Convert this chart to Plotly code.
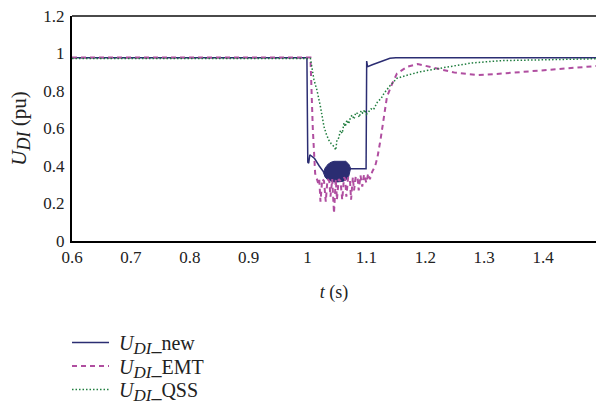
import plotly.graph_objects as go

# ---- data ----
t_new = [0.6, 0.999, 1.0005, 1.002, 1.004, 1.008, 1.012, 1.02, 1.027, 1.035, 1.05, 1.065,
         1.073, 1.08, 1.0995, 1.1005, 1.102, 1.11, 1.12, 1.13, 1.14, 1.15, 1.49]
u_new = [0.977, 0.977, 0.42, 0.415, 0.46, 0.45, 0.44, 0.40, 0.37, 0.36, 0.36, 0.37,
         0.385, 0.385, 0.385, 0.96, 0.93, 0.94, 0.952, 0.966, 0.975, 0.977, 0.977]

t_blob = [1.027, 1.030, 1.035, 1.040, 1.045, 1.050, 1.055, 1.060, 1.065, 1.070, 1.073]
u_blob_hi = [0.365, 0.39, 0.41, 0.42, 0.425, 0.425, 0.425, 0.425, 0.425, 0.41, 0.39]
u_blob_lo = [0.365, 0.34, 0.325, 0.32, 0.315, 0.315, 0.315, 0.318, 0.325, 0.345, 0.385]

t_emt = [0.6, 1.005, 1.009, 1.013, 1.018,
         1.020, 1.022, 1.025, 1.028, 1.031, 1.034, 1.037, 1.039, 1.042, 1.045, 1.048,
         1.050, 1.053, 1.056, 1.059, 1.062, 1.064, 1.066, 1.069, 1.072, 1.074, 1.077,
         1.079, 1.082, 1.085, 1.087, 1.090, 1.093, 1.096, 1.100, 1.103, 1.106, 1.110,
         1.115, 1.119, 1.124, 1.130, 1.135, 1.144, 1.152, 1.160, 1.170, 1.187, 1.204,
         1.220, 1.250, 1.290, 1.330, 1.360, 1.420, 1.490]
u_emt = [0.979, 0.979, 0.60, 0.36, 0.31,
         0.33, 0.21, 0.33, 0.32, 0.21, 0.33, 0.32, 0.236, 0.33, 0.148, 0.33,
         0.22, 0.33, 0.32, 0.22, 0.34, 0.33, 0.236, 0.34, 0.33, 0.22, 0.34,
         0.27, 0.345, 0.34, 0.27, 0.35, 0.29, 0.355, 0.31, 0.36, 0.33, 0.37,
         0.40, 0.45, 0.54, 0.66, 0.77, 0.84, 0.894, 0.91, 0.93, 0.944, 0.933,
         0.92, 0.898, 0.885, 0.893, 0.90, 0.917, 0.933]

t_qss = [0.6, 1.005, 1.011, 1.016, 1.022, 1.028, 1.032, 1.036, 1.040, 1.045, 1.048,
         1.050, 1.053, 1.056, 1.059, 1.062, 1.064, 1.067, 1.070, 1.073, 1.076, 1.079,
         1.082, 1.085, 1.088, 1.091, 1.094, 1.097, 1.100, 1.104, 1.108, 1.112, 1.119,
         1.125, 1.130, 1.141, 1.152, 1.170, 1.192, 1.215, 1.250, 1.280, 1.330, 1.400, 1.490]
u_qss = [0.974, 0.974, 0.859, 0.805, 0.716, 0.61, 0.57, 0.539, 0.52, 0.503, 0.485,
         0.539, 0.55, 0.59, 0.574, 0.63, 0.61, 0.645, 0.625, 0.66, 0.672, 0.65,
         0.685, 0.68, 0.66, 0.695, 0.68, 0.70, 0.675, 0.69, 0.705, 0.70, 0.743,
         0.76, 0.788, 0.832, 0.868, 0.885, 0.903, 0.916, 0.935, 0.95, 0.962, 0.968, 0.972]

x_ticks = [0.6, 0.7, 0.8, 0.9, 1.0, 1.1, 1.2, 1.3, 1.4]
x_tick_labels = ["0.6", "0.7", "0.8", "0.9", "1", "1.1", "1.2", "1.3", "1.4"]
y_ticks = [0, 0.2, 0.4, 0.6, 0.8, 1.0, 1.2]
y_tick_labels = ["0", "0.2", "0.4", "0.6", "0.8", "1", "1.2"]
series_suffix = ["new", "EMT", "QSS"]

NAVY = "#2b2d72"
MAG = "#b04ea0"
GREEN = "#1f7d3e"
FONT = "'Liberation Serif', 'Times New Roman', 'DejaVu Serif', serif"
PAD = "\u00a0"


def udi(sub_px):
    return "<i>U</i><sub><span style='font-size:%dpx'><i>DI</i></span></sub>" % sub_px


fig = go.Figure()
fig.add_trace(go.Scatter(x=t_new, y=u_new, mode="lines",
                         line=dict(color=NAVY, width=1.5),
                         name=PAD + udi(17) + "_" + series_suffix[0], legend="legend"))
fig.add_trace(go.Scatter(x=t_blob, y=u_blob_lo, mode="lines",
                         line=dict(color=NAVY, width=1), showlegend=False,
                         hoverinfo="skip"))
fig.add_trace(go.Scatter(x=t_blob, y=u_blob_hi, mode="lines", fill="tonexty",
                         fillcolor=NAVY, line=dict(color=NAVY, width=1),
                         showlegend=False, hoverinfo="skip"))
fig.add_trace(go.Scatter(x=t_emt, y=u_emt, mode="lines",
                         line=dict(color=MAG, width=2, dash="5px,4px"),
                         name=PAD + udi(17) + "_" + series_suffix[1], legend="legend2"))
fig.add_trace(go.Scatter(x=t_qss, y=u_qss, mode="lines",
                         line=dict(color=GREEN, width=1.5, dash="1.5px,2px"),
                         name=PAD + udi(17) + "_" + series_suffix[2], legend="legend3"))

leg_common = dict(x=-0.0095, xanchor="left", yanchor="top", itemwidth=37,
                  bgcolor="rgba(0,0,0,0)", font=dict(family=FONT, size=20, color="#222"))

fig.update_layout(
    width=596, height=408,
    margin=dict(l=72, r=0, t=16, b=167, autoexpand=False),
    paper_bgcolor="white", plot_bgcolor="white",
    font=dict(family=FONT, size=17, color="#222"),
    showlegend=True,
    legend=dict(y=-0.364, **leg_common),
    legend2=dict(y=-0.469, **leg_common),
    legend3=dict(y=-0.573, **leg_common),
    xaxis=dict(range=[0.6, 1.49], tickvals=x_ticks, ticktext=x_tick_labels,
               showgrid=False, zeroline=False, showline=True, linecolor="black",
               linewidth=2, ticks="", ticklen=0,
               title=dict(text="<i>t</i> (s)", standoff=19, font=dict(size=18))),
    yaxis=dict(range=[0, 1.2], tickvals=y_ticks, ticktext=y_tick_labels,
               showgrid=False, zeroline=False, showline=True, linecolor="black",
               linewidth=2, ticks="outside", ticklen=2, tickcolor="rgba(0,0,0,0)",
               ticklabeloverflow="allow",
               title=dict(text=udi(18) + " (pu)", standoff=11,
                          font=dict(size=21))),
    shapes=[dict(type="line", xref="paper", yref="paper", x0=0, x1=1, y0=1, y1=1,
                 line=dict(color="#4a4a4a", width=2))],
)

fig.write_html("out.html", config={"displayModeBar": False},
               post_script="document.body.style.margin='0';")
